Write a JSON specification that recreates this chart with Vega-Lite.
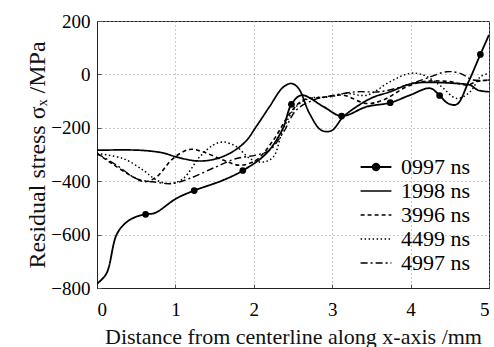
{
  "$schema": "https://vega.github.io/schema/vega-lite/v6.json",
  "width": 392,
  "height": 267,
  "autosize": {"type": "none"},
  "padding": {"left": 97, "top": 21, "right": 5, "bottom": 59},
  "background": "white",
  "config": {
    "font": "Liberation Serif",
    "view": {"stroke": "#222", "strokeWidth": 1},
    "axis": {
      "labelFont": "Liberation Serif", "titleFont": "Liberation Serif",
      "labelColor": "black", "titleColor": "#111",
      "labelFontSize": 19, "titleFontSize": 22, "titleFontWeight": "normal",
      "domainColor": "#222", "tickColor": "#555",
      "gridColor": "#999", "gridDash": [1, 3], "gridWidth": 1
    }
  },
  "datasets": {
    "lines": [
      {"s": "0997 ns", "x": 0, "y": -784}, {"s": "0997 ns", "x": 0.12, "y": -746}, {"s": "0997 ns", "x": 0.25, "y": -600}, {"s": "0997 ns", "x": 0.37, "y": -555}, {"s": "0997 ns", "x": 0.5, "y": -533}, {"s": "0997 ns", "x": 0.62, "y": -524}, {"s": "0997 ns", "x": 0.74, "y": -519}, {"s": "0997 ns", "x": 1.01, "y": -465}, {"s": "0997 ns", "x": 1.24, "y": -435}, {"s": "0997 ns", "x": 1.61, "y": -396}, {"s": "0997 ns", "x": 1.86, "y": -360}, {"s": "0997 ns", "x": 2.16, "y": -296}, {"s": "0997 ns", "x": 2.37, "y": -203}, {"s": "0997 ns", "x": 2.48, "y": -112}, {"s": "0997 ns", "x": 2.61, "y": -78}, {"s": "0997 ns", "x": 2.89, "y": -121}, {"s": "0997 ns", "x": 3.12, "y": -156}, {"s": "0997 ns", "x": 3.44, "y": -121}, {"s": "0997 ns", "x": 3.74, "y": -106}, {"s": "0997 ns", "x": 3.99, "y": -78}, {"s": "0997 ns", "x": 4.25, "y": -52}, {"s": "0997 ns", "x": 4.37, "y": -79}, {"s": "0997 ns", "x": 4.48, "y": -109}, {"s": "0997 ns", "x": 4.59, "y": -112}, {"s": "0997 ns", "x": 4.74, "y": -27}, {"s": "0997 ns", "x": 4.89, "y": 75}, {"s": "0997 ns", "x": 5, "y": 148},
      {"s": "1998 ns", "x": 0, "y": -284}, {"s": "1998 ns", "x": 0.54, "y": -284}, {"s": "1998 ns", "x": 0.84, "y": -294}, {"s": "1998 ns", "x": 1.01, "y": -309}, {"s": "1998 ns", "x": 1.27, "y": -324}, {"s": "1998 ns", "x": 1.48, "y": -319}, {"s": "1998 ns", "x": 1.69, "y": -296}, {"s": "1998 ns", "x": 1.89, "y": -253}, {"s": "1998 ns", "x": 2.03, "y": -196}, {"s": "1998 ns", "x": 2.2, "y": -121}, {"s": "1998 ns", "x": 2.37, "y": -49}, {"s": "1998 ns", "x": 2.48, "y": -34}, {"s": "1998 ns", "x": 2.57, "y": -52}, {"s": "1998 ns", "x": 2.71, "y": -146}, {"s": "1998 ns", "x": 2.86, "y": -209}, {"s": "1998 ns", "x": 2.99, "y": -211}, {"s": "1998 ns", "x": 3.14, "y": -159}, {"s": "1998 ns", "x": 3.31, "y": -121}, {"s": "1998 ns", "x": 3.52, "y": -86}, {"s": "1998 ns", "x": 3.74, "y": -65}, {"s": "1998 ns", "x": 3.99, "y": -36}, {"s": "1998 ns", "x": 4.16, "y": -30}, {"s": "1998 ns", "x": 4.59, "y": -34}, {"s": "1998 ns", "x": 4.76, "y": -40}, {"s": "1998 ns", "x": 4.86, "y": -59}, {"s": "1998 ns", "x": 5, "y": -65},
      {"s": "3996 ns", "x": 0, "y": -296}, {"s": "3996 ns", "x": 0.2, "y": -336}, {"s": "3996 ns", "x": 0.46, "y": -384}, {"s": "3996 ns", "x": 0.61, "y": -402}, {"s": "3996 ns", "x": 0.76, "y": -384}, {"s": "3996 ns", "x": 0.97, "y": -315}, {"s": "3996 ns", "x": 1.18, "y": -281}, {"s": "3996 ns", "x": 1.35, "y": -290}, {"s": "3996 ns", "x": 1.61, "y": -321}, {"s": "3996 ns", "x": 1.82, "y": -340}, {"s": "3996 ns", "x": 2.03, "y": -321}, {"s": "3996 ns", "x": 2.25, "y": -246}, {"s": "3996 ns", "x": 2.46, "y": -146}, {"s": "3996 ns", "x": 2.63, "y": -96}, {"s": "3996 ns", "x": 2.89, "y": -86}, {"s": "3996 ns", "x": 3.14, "y": -78}, {"s": "3996 ns", "x": 3.44, "y": -109}, {"s": "3996 ns", "x": 3.65, "y": -96}, {"s": "3996 ns", "x": 3.95, "y": -46}, {"s": "3996 ns", "x": 4.16, "y": -27}, {"s": "3996 ns", "x": 4.5, "y": -27}, {"s": "3996 ns", "x": 4.72, "y": -40}, {"s": "3996 ns", "x": 4.84, "y": -27}, {"s": "3996 ns", "x": 5, "y": -21},
      {"s": "4499 ns", "x": 0, "y": -296}, {"s": "4499 ns", "x": 0.33, "y": -315}, {"s": "4499 ns", "x": 0.59, "y": -359}, {"s": "4499 ns", "x": 0.76, "y": -396}, {"s": "4499 ns", "x": 0.93, "y": -409}, {"s": "4499 ns", "x": 1.1, "y": -390}, {"s": "4499 ns", "x": 1.31, "y": -309}, {"s": "4499 ns", "x": 1.48, "y": -265}, {"s": "4499 ns", "x": 1.61, "y": -253}, {"s": "4499 ns", "x": 1.78, "y": -271}, {"s": "4499 ns", "x": 1.95, "y": -315}, {"s": "4499 ns", "x": 2.12, "y": -328}, {"s": "4499 ns", "x": 2.25, "y": -309}, {"s": "4499 ns", "x": 2.37, "y": -209}, {"s": "4499 ns", "x": 2.54, "y": -121}, {"s": "4499 ns", "x": 2.71, "y": -90}, {"s": "4499 ns", "x": 2.97, "y": -84}, {"s": "4499 ns", "x": 3.18, "y": -71}, {"s": "4499 ns", "x": 3.44, "y": -78}, {"s": "4499 ns", "x": 3.74, "y": -27}, {"s": "4499 ns", "x": 3.99, "y": 4}, {"s": "4499 ns", "x": 4.16, "y": -2}, {"s": "4499 ns", "x": 4.37, "y": -40}, {"s": "4499 ns", "x": 4.59, "y": -90}, {"s": "4499 ns", "x": 4.76, "y": -65}, {"s": "4499 ns", "x": 4.89, "y": -9}, {"s": "4499 ns", "x": 5, "y": 4},
      {"s": "4997 ns", "x": 0, "y": -296}, {"s": "4997 ns", "x": 0.25, "y": -340}, {"s": "4997 ns", "x": 0.5, "y": -390}, {"s": "4997 ns", "x": 0.76, "y": -404}, {"s": "4997 ns", "x": 0.95, "y": -409}, {"s": "4997 ns", "x": 1.18, "y": -390}, {"s": "4997 ns", "x": 1.52, "y": -346}, {"s": "4997 ns", "x": 1.78, "y": -315}, {"s": "4997 ns", "x": 2.03, "y": -302}, {"s": "4997 ns", "x": 2.2, "y": -284}, {"s": "4997 ns", "x": 2.37, "y": -221}, {"s": "4997 ns", "x": 2.54, "y": -134}, {"s": "4997 ns", "x": 2.76, "y": -96}, {"s": "4997 ns", "x": 2.97, "y": -81}, {"s": "4997 ns", "x": 3.31, "y": -65}, {"s": "4997 ns", "x": 3.61, "y": -65}, {"s": "4997 ns", "x": 3.95, "y": -40}, {"s": "4997 ns", "x": 4.2, "y": -15}, {"s": "4997 ns", "x": 4.46, "y": 10}, {"s": "4997 ns", "x": 4.63, "y": 4}, {"s": "4997 ns", "x": 4.8, "y": -21}, {"s": "4997 ns", "x": 5, "y": -21}
    ],
    "dots": [
      {"s": "0997 ns", "x": 0.62, "y": -524}, {"s": "0997 ns", "x": 1.24, "y": -435}, {"s": "0997 ns", "x": 1.86, "y": -360}, {"s": "0997 ns", "x": 2.48, "y": -112}, {"s": "0997 ns", "x": 3.12, "y": -156}, {"s": "0997 ns", "x": 3.74, "y": -106}, {"s": "0997 ns", "x": 4.37, "y": -79}, {"s": "0997 ns", "x": 4.89, "y": 75}
    ]
  },
  "layer": [
    {
      "data": {"name": "lines"},
      "mark": {"type": "line", "interpolate": "catmull-rom", "color": "black", "clip": true},
      "encoding": {
        "x": {"field": "x", "type": "quantitative", "scale": {"domain": [0, 5], "nice": false},
          "axis": {"values": [0, 1, 2, 3, 4, 5], "format": "d", "grid": true, "tickSize": -4, "labelPadding": 16,
            "title": "Distance from centerline along x-axis /mm", "titlePadding": 7, "titleFontSize": 22}},
        "y": {"field": "y", "type": "quantitative", "scale": {"domain": [-800, 200], "nice": false},
          "axis": {"values": [-800, -600, -400, -200, 0, 200], "format": "d", "grid": true, "tickSize": -4, "labelPadding": 11,
            "title": "Residual stress σₓ /MPa", "titlePadding": 1, "titleFontSize": 24}},
        "detail": {"field": "s"},
        "strokeDash": {"field": "s", "type": "nominal",
          "scale": {"domain": ["0997 ns", "1998 ns", "3996 ns", "4499 ns", "4997 ns"],
            "range": [[1, 0], [1, 0], [4, 3], [1.5, 2.5], [7, 3, 2, 3]]},
          "legend": {
            "orient": "none", "legendX": 267, "legendY": 134, "title": null,
            "labelFontSize": 22, "labelFont": "Liberation Serif", "labelColor": "black",
            "symbolSize": 484, "rowPadding": 1, "labelOffset": 13, "padding": 0,
            "symbolStrokeColor": "black", "symbolStrokeWidth": 1.5,
            "encode": {
              "symbols": {"update": {
              "shape": {"signal": "datum.value === '0997 ns' ? 'M-1.4,0H1.4M-0.3,0A0.3,0.3 0 1 1 0.3,0A0.3,0.3 0 1 1 -0.3,0Z' : 'M-1.4,0H1.4'"},
              "fill": {"value": "black"}, "stroke": {"value": "black"},
              "strokeWidth": {"signal": "datum.value === '0997 ns' || datum.value === '4997 ns' ? 2 : 1.3"}
            }}}
          }},
        "strokeWidth": {"field": "s", "type": "nominal",
          "scale": {"domain": ["0997 ns", "1998 ns", "3996 ns", "4499 ns", "4997 ns"], "range": [1.8, 1.4, 1.2, 1.2, 1.8]},
          "legend": null}
      }
    },
    {
      "data": {"name": "dots"},
      "mark": {"type": "point", "filled": true, "color": "black", "opacity": 1, "size": 45},
      "encoding": {
        "x": {"field": "x", "type": "quantitative"},
        "y": {"field": "y", "type": "quantitative"}
      }
    }
  ]
}
